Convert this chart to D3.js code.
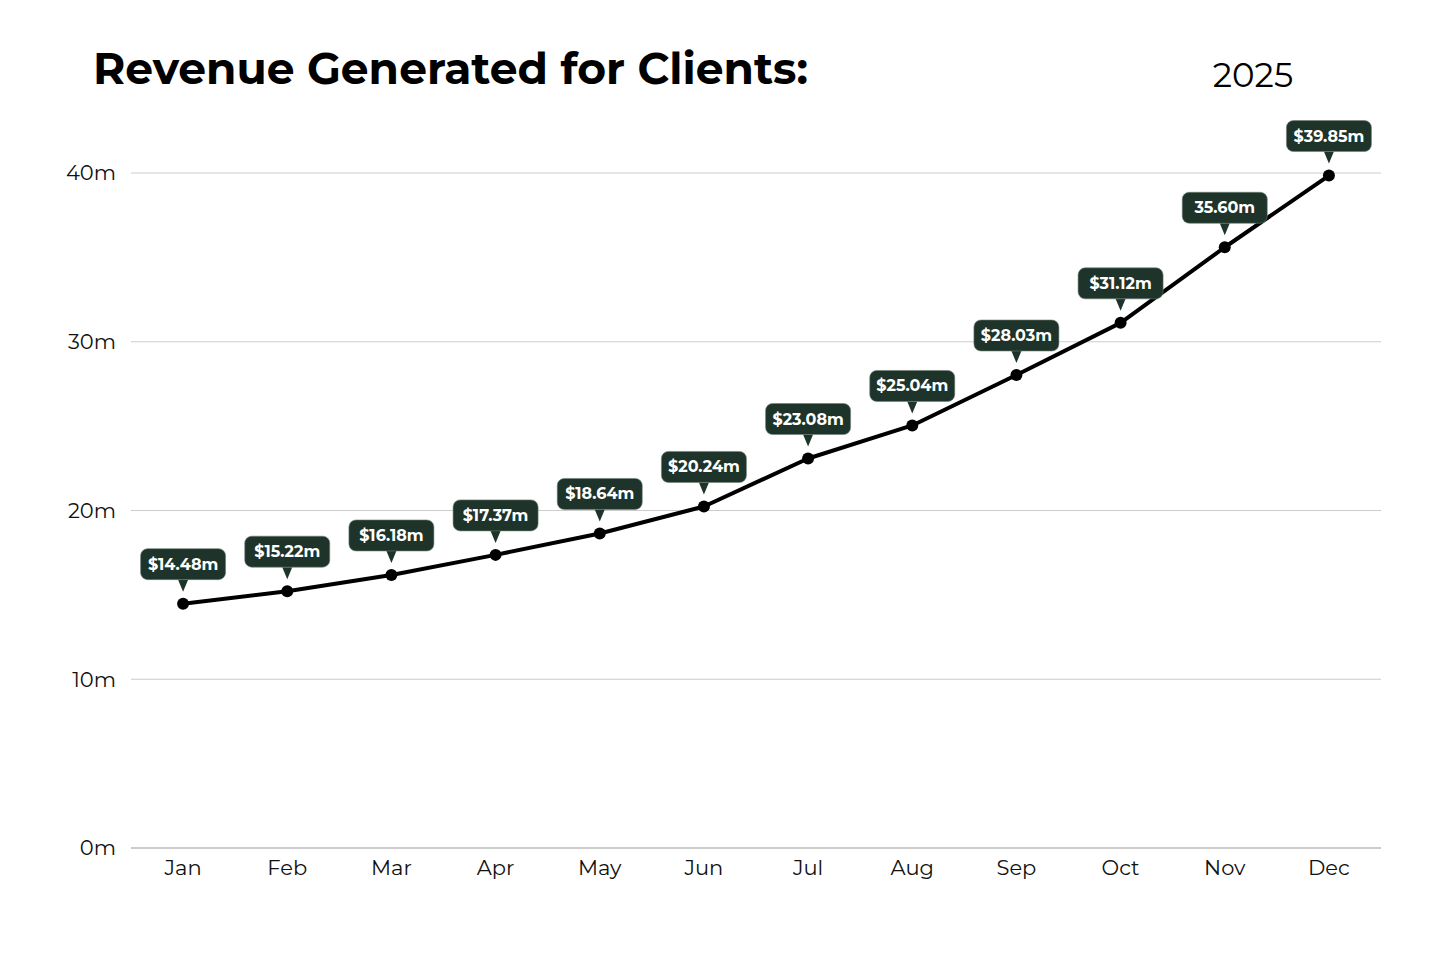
<!DOCTYPE html>
<html><head><meta charset="utf-8">
<script src="https://cdn.jsdelivr.net/npm/d3@7"></script>
<style>
html,body{margin:0;padding:0;background:#fff;}
svg{display:block;font-family:Montserrat,"DejaVu Sans",sans-serif;}
</style></head>
<body>
<svg id="chart" width="1448" height="958"></svg>
<script>
const months = ["Jan","Feb","Mar","Apr","May","Jun","Jul","Aug","Sep","Oct","Nov","Dec"];
const revenue = [14.48,15.22,16.18,17.37,18.64,20.24,23.08,25.04,28.03,31.12,35.60,39.85];
const labels = ["$14.48m","$15.22m","$16.18m","$17.37m","$18.64m","$20.24m","$23.08m","$25.04m","$28.03m","$31.12m","35.60m","$39.85m"];
const yTicks = [0,10,20,30,40];
const title = "Revenue Generated for Clients:";
const yearLabel = "2025";

const svg = d3.select("#chart");
const mLeft = 131, mRight = 1381, mTop = 173, mBottom = 848;
const x = d3.scalePoint().domain(months).range([mLeft, mRight]).padding(0.5);
const y = d3.scaleLinear().domain([0, 40]).range([mBottom, mTop]);

// grid
svg.append("g").selectAll("line").data(yTicks.filter(d=>d>0)).join("line")
  .attr("x1", mLeft).attr("x2", mRight)
  .attr("y1", d=>y(d)).attr("y2", d=>y(d))
  .attr("stroke", "#cccccc").attr("stroke-width", 1);
svg.append("line").attr("x1", mLeft).attr("x2", mRight).attr("y1", y(0)).attr("y2", y(0))
  .attr("stroke", "#999").attr("stroke-width", 1.2);

// y labels
svg.append("g").selectAll("text").data(yTicks).join("text")
  .attr("x", 116).attr("y", d=>y(d)).attr("dy", "0.35em")
  .attr("text-anchor", "end").attr("font-size", 21).attr("fill", "#111")
  .text(d=>d+"m");

// x labels
svg.append("g").selectAll("text").data(months).join("text")
  .attr("x", d=>x(d)).attr("y", 875)
  .attr("text-anchor", "middle").attr("font-size", 21).attr("fill", "#111")
  .text(d=>d);

// line
const data = months.map((m,i)=>({m, v:revenue[i], l:labels[i]}));
svg.append("path").datum(data)
  .attr("d", d3.line().x(d=>x(d.m)).y(d=>y(d.v)))
  .attr("fill", "none").attr("stroke", "#000").attr("stroke-width", 4).attr("stroke-linejoin","round");
svg.append("g").selectAll("circle").data(data).join("circle")
  .attr("cx", d=>x(d.m)).attr("cy", d=>y(d.v)).attr("r", 6).attr("fill", "#000");

// labels
const lg = svg.append("g").selectAll("g").data(data).join("g")
  .attr("transform", d=>`translate(${x(d.m)},${y(d.v)})`);
lg.append("path")
  .attr("d", "M-5,-24 L5,-24 L0,-12 Z").attr("fill", "#1e3329");
lg.append("rect")
  .attr("x", -42.5).attr("y", -55).attr("width", 85).attr("height", 31).attr("rx", 7)
  .attr("fill", "#1e3329").attr("stroke", "#6f7f77").attr("stroke-width", 0.6);
lg.append("text").attr("x", 0).attr("y", -34).attr("text-anchor", "middle")
  .attr("font-size", 16).attr("font-weight", "bold").attr("fill", "#fff")
  .text(d=>d.l);

// title
svg.append("text").attr("x", 93).attr("y", 84).attr("font-size", 44).attr("font-weight", "bold")
  .attr("fill", "#000").text(title);
svg.append("text").attr("x", 1253).attr("y", 87).attr("text-anchor", "middle").attr("font-size", 34)
  .attr("fill", "#000").text(yearLabel);
</script>
</body></html>
